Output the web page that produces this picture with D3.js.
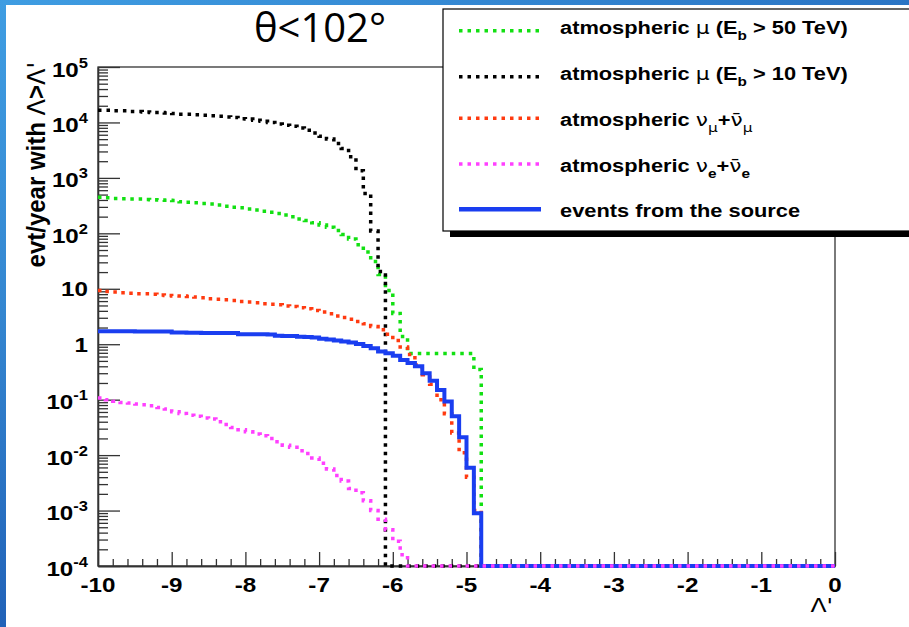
<!DOCTYPE html>
<html>
<head>
<meta charset="UTF-8">
<title>evt/year with Lambda > Lambda'</title>
<style type="text/css">
  body { margin: 0; background: #fff; }
  svg { display: block; }
  .lbl { font: bold 20.5px "Liberation Sans", Arial, sans-serif; fill: #000; }
  .leg { font: bold 18.5px "Liberation Sans", Arial, sans-serif; fill: #000; }
  .greek { font-weight: normal; font-family: "DejaVu Sans", "Liberation Sans", sans-serif; }
  .axis path, .axis line { stroke: #333; stroke-width: 1.3; }
</style>
</head>
<body>
<svg width="909" height="627"></svg>
<script src="https://d3js.org/d3.v7.min.js"></script>
<script type="text/javascript">
// histogram: 100 bins of 0.1 from -10 to 0; the values below are bins -10.0 ... -4.9,
// every later bin is empty
const binWidth = 0.1;
const nBins = 100;

// atmospheric mu (Eb > 50 TeV)
const muHigh = [447, 437, 427, 422, 417, 414, 407, 404, 398, 395,
  389, 372, 363, 355, 347, 339, 324, 309, 295, 288,
  275, 263, 251, 240, 229, 214, 200, 182, 170, 155,
  141, 129, 112, 95, 79, 62, 46, 31, 18, 9.3,
  3.6, 1.38, 0.68, 0.68, 0.68, 0.68, 0.68, 0.68, 0.68, 0.68,
  0.68, 0.35];
// atmospheric mu (Eb > 10 TeV)
const muLow = [16600, 16600, 16200, 16200, 15800, 15800, 15500, 15100, 15100, 14800,
  14500, 14100, 14100, 13800, 13500, 13200, 12900, 12600, 12300, 11700,
  11500, 11000, 10500, 10000, 9330, 8910, 8510, 7940, 7240, 6460,
  5620, 5010, 4170, 3390, 2400, 1350, 525, 110, 20.4, 0,
  0, 0, 0, 0, 0, 0, 0, 0, 0, 0,
  0, 0];
// atmospheric numu + anti-numu
const nuMu = [9.33, 8.91, 8.71, 8.51, 8.32, 8.13, 8.1, 7.94, 7.76, 7.59,
  7.41, 7.4, 7.24, 7.08, 6.92, 6.61, 6.46, 6.31, 6.17, 5.89,
  5.75, 5.62, 5.37, 5.25, 5.13, 4.9, 4.79, 4.57, 4.37, 4.07,
  3.8, 3.55, 3.24, 3.02, 2.82, 2.57, 2.34, 2.09, 1.82, 1.51,
  1.17, 0.89, 0.65, 0.42, 0.28, 0.19, 0.1, 0.056, 0.025, 0.011,
  0.004, 0.001];
// events from the source
const source = [1.72, 1.72, 1.71, 1.71, 1.71, 1.7, 1.7, 1.7, 1.69, 1.69,
  1.62, 1.62, 1.61, 1.61, 1.6, 1.6, 1.6, 1.59, 1.59, 1.52,
  1.52, 1.51, 1.51, 1.5, 1.42, 1.41, 1.4, 1.36, 1.35, 1.32,
  1.26, 1.22, 1.17, 1.12, 1.07, 1.01, 0.93, 0.85, 0.74, 0.69,
  0.62, 0.52, 0.46, 0.4, 0.3, 0.22, 0.15, 0.093, 0.05, 0.021,
  0.0059, 0.00089];
// atmospheric nue + anti-nue
const nuE = [0.107, 0.1, 0.0933, 0.0891, 0.0871, 0.0832, 0.0813, 0.0776, 0.0724, 0.0676,
  0.0603, 0.0562, 0.0525, 0.0501, 0.0468, 0.0447, 0.0398, 0.0355, 0.0316, 0.0288,
  0.0263, 0.024, 0.0224, 0.02, 0.0174, 0.0151, 0.0138, 0.012, 0.0107, 0.0089,
  0.0071, 0.0056, 0.0043, 0.0034, 0.0025, 0.0021, 0.0015, 0.001, 0.0007, 0.00045,
  0.00028, 0.00016, 0, 0, 0, 0, 0, 0, 0, 0,
  0, 0];

const xTicks = [-10, -9, -8, -7, -6, -5, -4, -3, -2, -1, 0];
const yExponents = [-4, -3, -2, -1, 0, 1, 2, 3, 4, 5];

let svg = d3.select('svg'),
    width = +svg.attr('width'),
    height = +svg.attr('height');

const frame = {left: 98, right: 835, top: 67, bottom: 566};
const SX = 1.18; // the ROOT picture is stretched sideways on the slide

const x = d3.scaleLinear().domain([-10, 0]).range([frame.left, frame.right]);
const y = d3.scaleLog().domain([1e-4, 1e5]).range([frame.bottom, frame.top]);
const yFloor = 1e-4;

// slide background strips
const defs = svg.append('defs');
const gl = defs.append('linearGradient').attr('id', 'leftStrip')
  .attr('x1', 0).attr('y1', 0).attr('x2', 0).attr('y2', 1);
gl.append('stop').attr('offset', 0).attr('stop-color', '#3f9de2');
gl.append('stop').attr('offset', 0.5).attr('stop-color', '#3486d0');
gl.append('stop').attr('offset', 1).attr('stop-color', '#2162b8');
const gt = defs.append('linearGradient').attr('id', 'topStrip')
  .attr('x1', 0).attr('y1', 0).attr('x2', 1).attr('y2', 0);
gt.append('stop').attr('offset', 0).attr('stop-color', '#3f9de2');
gt.append('stop').attr('offset', 1).attr('stop-color', '#2a74c4');

svg.append('rect').attr('width', width).attr('height', height).attr('fill', '#fff');
svg.append('rect').attr('width', width).attr('height', 5).attr('fill', 'url(#topStrip)');
svg.append('rect').attr('width', 6).attr('height', height).attr('fill', 'url(#leftStrip)');

// frame
svg.append('rect')
  .attr('x', frame.left).attr('y', frame.top)
  .attr('width', frame.right - frame.left).attr('height', frame.bottom - frame.top)
  .attr('fill', 'none').attr('stroke', '#333').attr('stroke-width', 1.3);

// y axis ticks (inside the frame)
const yMajor = yExponents.map(e => Math.pow(10, e));
const yMinor = [];
yExponents.slice(0, -1).forEach(e => {
  d3.range(2, 10).forEach(k => yMinor.push(k * Math.pow(10, e)));
});
svg.append('g').attr('class', 'axis')
  .attr('transform', `translate(${frame.left},0)`)
  .call(d3.axisRight(y).tickValues(yMinor).tickSize(10).tickSizeOuter(0).tickFormat(''));
svg.append('g').attr('class', 'axis')
  .attr('transform', `translate(${frame.left},0)`)
  .call(d3.axisRight(y).tickValues(yMajor).tickSize(22).tickSizeOuter(0).tickFormat(''));

// x axis ticks
const xMinor = d3.range(0, 51).map(i => -10 + i * 0.2).filter(v => Math.abs(v - Math.round(v)) > 1e-6);
svg.append('g').attr('class', 'axis')
  .attr('transform', `translate(0,${frame.bottom})`)
  .call(d3.axisTop(x).tickValues(xMinor).tickSize(7).tickSizeOuter(0).tickFormat(''));
svg.append('g').attr('class', 'axis')
  .attr('transform', `translate(0,${frame.bottom})`)
  .call(d3.axisTop(x).tickValues(xTicks).tickSize(14).tickSizeOuter(0).tickFormat(''));

// y labels
yExponents.forEach(e => {
  const ty = y(Math.pow(10, e));
  const plain = e === 0 || e === 1;
  const t = svg.append('g')
    .attr('transform', `translate(88,${ty + (plain ? 7.5 : 9.5)}) scale(${SX},1)`)
    .append('text').attr('class', 'lbl').attr('text-anchor', 'end');
  if (plain) {
    t.text(e === 0 ? '1' : '10');
  } else {
    t.append('tspan').text('10');
    t.append('tspan').attr('dy', -9).style('font-size', '14px').text(e);
  }
});

// x labels
xTicks.forEach(v => {
  svg.append('g')
    .attr('transform', `translate(${x(v)},592) scale(${SX},1)`)
    .append('text').attr('class', 'lbl').attr('text-anchor', 'middle')
    .text(v);
});

// axis titles
const yt = svg.append('text')
  .attr('class', 'lbl')
  .attr('text-anchor', 'end')
  .attr('transform', `translate(45,62) scale(1.05,1) rotate(-90)`)
  .style('font-size', '24px');
yt.append('tspan').text('evt/year with ');
yt.append('tspan').attr('class', 'greek').text('Λ');
yt.append('tspan').text('>');
yt.append('tspan').attr('class', 'greek').text('Λ\'');

svg.append('g')
  .attr('transform', `translate(833,612) scale(${SX},1)`)
  .append('text').attr('text-anchor', 'end')
  .style('font', '20px "DejaVu Sans", sans-serif')
  .text('Λ\'');

// histograms
const binEdges = d3.range(nBins).map(i => -10 + i * binWidth);
const histLine = d3.line()
  .x(d => x(d[0]))
  .y(d => y(Math.max(d[1], yFloor)))
  .curve(d3.curveStepAfter);

function histPoints(vals) {
  const pts = binEdges.map((e, i) => [e, i < vals.length ? vals[i] : 0]);
  pts.push([0, pts[pts.length - 1][1]]);
  return pts;
}

const dotted = '3.5 5';
const series = [
  {vals: muHigh, color: '#12e012', dash: dotted, w: 3.5},
  {vals: muLow, color: '#000000', dash: dotted, w: 3.5},
  {vals: nuMu, color: '#ff3a10', dash: dotted, w: 3.5},
  {vals: source, color: '#1a3ef0', dash: null, w: 4},
  {vals: nuE, color: '#ff40ff', dash: dotted, w: 3.5}
];

svg.append('g').selectAll('path')
  .data(series)
  .enter().append('path')
    .attr('d', d => histLine(histPoints(d.vals)))
    .attr('fill', 'none')
    .attr('stroke', d => d.color)
    .attr('stroke-width', d => d.w)
    .attr('stroke-dasharray', d => d.dash);

// legend
const legendEntries = [
  {color: '#12e012', dash: dotted, w: 3.5,
    parts: [['atmospheric '], ['μ', 'g'], [' (E'], ['b', 'sub'], [' > 50 TeV)']]},
  {color: '#000000', dash: dotted, w: 3.5,
    parts: [['atmospheric '], ['μ', 'g'], [' (E'], ['b', 'sub'], [' > 10 TeV)']]},
  {color: '#ff3a10', dash: dotted, w: 3.5,
    parts: [['atmospheric '], ['ν', 'g'], ['μ', 'gsub'], ['+'], ['ν\u0304', 'g'], ['μ', 'gsub']]},
  {color: '#ff40ff', dash: dotted, w: 3.5,
    parts: [['atmospheric '], ['ν', 'g'], ['e', 'sub'], ['+'], ['ν\u0304', 'g'], ['e', 'sub']]},
  {color: '#1a3ef0', dash: null, w: 4.5,
    parts: [['events from the source']]}
];
const legLineY = [30.7, 76.7, 118.3, 164, 209.3];
const legTextY = [33.5, 79.5, 126, 171.5, 216.7];

const leg = svg.append('g');
leg.append('rect').attr('x', 450).attr('y', 14).attr('width', 480).attr('height', 223).attr('fill', '#000');
leg.append('rect').attr('x', 443).attr('y', 9).attr('width', 480).attr('height', 222)
  .attr('fill', '#fff').attr('stroke', '#000').attr('stroke-width', 1.2);

legendEntries.forEach((d, i) => {
  leg.append('line')
    .attr('x1', 459).attr('x2', 541)
    .attr('y1', legLineY[i]).attr('y2', legLineY[i])
    .attr('stroke', d.color).attr('stroke-width', d.w)
    .attr('stroke-dasharray', d.dash);
  const t = leg.append('g')
    .attr('transform', `translate(560,${legTextY[i]}) scale(${SX},1)`)
    .append('text').attr('class', 'leg');
  let shift = 0;
  d.parts.forEach(p => {
    const kind = p[1] || '';
    const sub = kind === 'sub' || kind === 'gsub';
    const ts = t.append('tspan').text(p[0]);
    const want = sub ? 6 : 0;
    if (want !== shift) { ts.attr('dy', want - shift); shift = want; }
    if (kind.startsWith('g')) ts.attr('class', 'greek');
    if (sub) ts.style('font-size', '13px');
  });
});

// slide title
svg.append('text')
  .attr('x', 320).attr('y', 42)
  .attr('text-anchor', 'middle')
  .style('font', '40px "Open Sans", sans-serif')
  .text('θ<102°');
</script>
</body>
</html>
